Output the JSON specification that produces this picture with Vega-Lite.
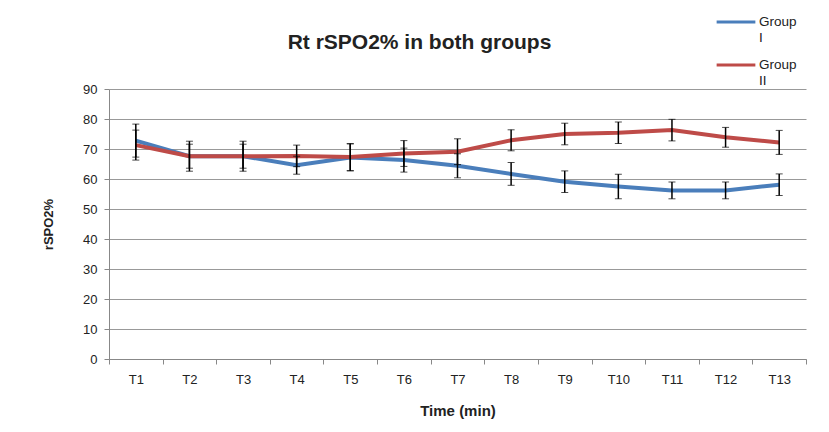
{
  "$schema": "https://vega.github.io/schema/vega-lite/v6.json",
  "width": 697,
  "height": 270,
  "autosize": {"type": "none"},
  "padding": {"left": 109, "top": 89, "right": 23, "bottom": 73},
  "background": "white",
  "config": {
    "font": "Liberation Sans, Arial, sans-serif",
    "view": {"stroke": null},
    "axis": {"labelFont": "Liberation Sans, Arial, sans-serif", "titleFont": "Liberation Sans, Arial, sans-serif", "labelColor": "#222", "titleColor": "#222"},
    "legend": {"labelFont": "Liberation Sans, Arial, sans-serif"}
  },
  "title": {
    "text": "Rt rSPO2% in both groups",
    "fontSize": 21,
    "fontWeight": "bold",
    "color": "#222",
    "anchor": "middle",
    "frame": "group",
    "dx": -38,
    "offset": -52,
    "font": "Liberation Sans, Arial, sans-serif"
  },
  "data": {
    "values": [
      {"group": "Group I", "time": "T1", "mean": 72.8, "sd": 5.5},
      {"group": "Group I", "time": "T2", "mean": 67.6, "sd": 5.0},
      {"group": "Group I", "time": "T3", "mean": 67.6, "sd": 5.0},
      {"group": "Group I", "time": "T4", "mean": 64.6, "sd": 3.0},
      {"group": "Group I", "time": "T5", "mean": 67.2, "sd": 4.5},
      {"group": "Group I", "time": "T6", "mean": 66.3, "sd": 4.0},
      {"group": "Group I", "time": "T7", "mean": 64.4, "sd": 4.0},
      {"group": "Group I", "time": "T8", "mean": 61.7, "sd": 3.8},
      {"group": "Group I", "time": "T9", "mean": 59.1, "sd": 3.6},
      {"group": "Group I", "time": "T10", "mean": 57.5, "sd": 4.1},
      {"group": "Group I", "time": "T11", "mean": 56.2, "sd": 2.8},
      {"group": "Group I", "time": "T12", "mean": 56.2, "sd": 2.8},
      {"group": "Group I", "time": "T13", "mean": 58.1, "sd": 3.6},
      {"group": "Group II", "time": "T1", "mean": 71.3, "sd": 5.0},
      {"group": "Group II", "time": "T2", "mean": 67.6, "sd": 4.0},
      {"group": "Group II", "time": "T3", "mean": 67.6, "sd": 4.0},
      {"group": "Group II", "time": "T4", "mean": 67.7, "sd": 3.6},
      {"group": "Group II", "time": "T5", "mean": 67.3, "sd": 4.5},
      {"group": "Group II", "time": "T6", "mean": 68.5, "sd": 4.3},
      {"group": "Group II", "time": "T7", "mean": 69.1, "sd": 4.3},
      {"group": "Group II", "time": "T8", "mean": 72.9, "sd": 3.5},
      {"group": "Group II", "time": "T9", "mean": 75.0, "sd": 3.6},
      {"group": "Group II", "time": "T10", "mean": 75.4, "sd": 3.6},
      {"group": "Group II", "time": "T11", "mean": 76.3, "sd": 3.6},
      {"group": "Group II", "time": "T12", "mean": 73.9, "sd": 3.3},
      {"group": "Group II", "time": "T13", "mean": 72.2, "sd": 4.0}
    ]
  },
  "encoding": {
    "x": {
      "field": "time",
      "type": "nominal",
      "sort": null,
      "scale": {"paddingInner": 0, "paddingOuter": 0},
      "axis": {
        "title": "Time (min)",
        "titleFontSize": 15,
        "titleFontWeight": "bold",
        "titlePadding": 17,
        "labelAngle": 0,
        "labelFontSize": 13,
        "labelPadding": 9,
        "tickBand": "extent",
        "tickSize": 5,
        "tickColor": "#888",
        "domainColor": "#888",
        "grid": false
      }
    },
    "y": {
      "field": "mean",
      "type": "quantitative",
      "scale": {"domain": [0, 90], "nice": false},
      "axis": {
        "title": "rSPO2%",
        "titleFontSize": 13,
        "titleFontWeight": "bold",
        "titlePadding": 27,
        "tickCount": 9,
        "labelFontSize": 13,
        "labelPadding": 7,
        "tickSize": 5,
        "tickColor": "#888",
        "domainColor": "#888",
        "gridColor": "#999",
        "gridWidth": 1
      }
    }
  },
  "layer": [
    {
      "mark": {"type": "line", "strokeWidth": 4},
      "encoding": {
        "color": {
          "field": "group",
          "type": "nominal",
          "scale": {"domain": ["Group I", "Group II"], "range": ["#4A7EBB", "#BE4B48"]},
          "legend": {
            "title": null,
            "orient": "none",
            "legendX": 606,
            "legendY": -88,
            "symbolType": "stroke",
            "symbolSize": 1500,
            "symbolStrokeWidth": 3,
            "labelFontSize": 13.5,
            "labelColor": "#222",
            "labelOffset": 2,
            "rowPadding": -2,
            "labelExpr": "datum.label == 'Group I' ? ['Group', 'I'] : ['Group', 'II']"
          }
        }
      }
    },
    {
      "mark": {"type": "errorbar", "ticks": {"size": 7, "color": "black", "strokeWidth": 1.5}, "rule": {"color": "black", "strokeWidth": 1.5}},
      "encoding": {
        "yError": {"field": "sd"}
      }
    }
  ]
}
